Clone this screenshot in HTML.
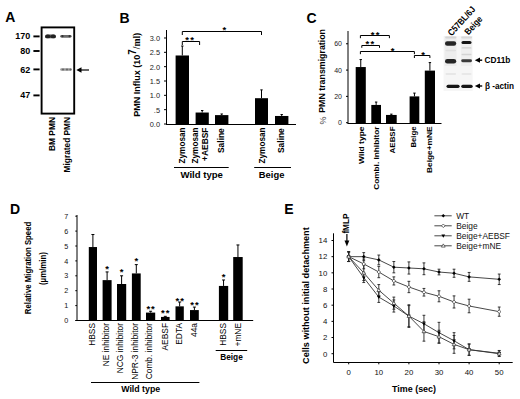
<!DOCTYPE html>
<html><head><meta charset="utf-8"><style>
html,body{margin:0;padding:0;background:#fff;width:520px;height:399px;overflow:hidden}
svg{display:block;font-family:"Liberation Sans",sans-serif}
</style></head><body>
<svg width="520" height="399" viewBox="0 0 520 399">
<rect width="520" height="399" fill="#fff"/>
<text x="5.3" y="22.2" font-size="14" font-weight="bold" text-anchor="start" fill="#000">A</text>
<defs><filter id="bl" x="-20%" y="-50%" width="140%" height="200%"><feGaussianBlur stdDeviation="0.6"/></filter><filter id="bl2" x="-20%" y="-80%" width="140%" height="260%"><feGaussianBlur stdDeviation="0.75"/></filter></defs>
<rect x="45" y="34.5" width="11" height="3.8" rx="1.9" fill="#555" filter="url(#bl)"/>
<ellipse cx="47.8" cy="36.4" rx="2.6" ry="1.9" fill="#222" filter="url(#bl)"/>
<ellipse cx="53.2" cy="36.4" rx="2.6" ry="1.9" fill="#222" filter="url(#bl)"/>
<rect x="60.2" y="34.9" width="11.4" height="2.8" rx="1.4" fill="#6a6a6a" filter="url(#bl)"/>
<circle cx="62.5" cy="36.2" r="1.1" fill="#333" filter="url(#bl)"/>
<circle cx="69.6" cy="36.2" r="1.1" fill="#333" filter="url(#bl)"/>
<rect x="60.2" y="68.2" width="11.6" height="2.6" rx="1.3" fill="#999" filter="url(#bl)"/>
<circle cx="63" cy="69.5" r="1" fill="#666" filter="url(#bl)"/>
<circle cx="67" cy="69.5" r="1" fill="#666" filter="url(#bl)"/>
<circle cx="70.5" cy="69.5" r="1" fill="#666" filter="url(#bl)"/>
<rect x="41.6" y="27.4" width="32.6" height="86.2" fill="none" stroke="#000" stroke-width="1.9"/>
<text x="30.2" y="39.4" font-size="9" font-weight="bold" text-anchor="end" fill="#000">170</text>
<line x1="33.4" y1="36.4" x2="39.6" y2="36.4" stroke="#000" stroke-width="1.9"/>
<text x="30.2" y="54" font-size="9" font-weight="bold" text-anchor="end" fill="#000">80</text>
<line x1="33.4" y1="51" x2="39.6" y2="51" stroke="#000" stroke-width="1.9"/>
<text x="30.2" y="72.5" font-size="9" font-weight="bold" text-anchor="end" fill="#000">62</text>
<line x1="33.4" y1="69.4" x2="39.6" y2="69.4" stroke="#000" stroke-width="1.9"/>
<text x="30.2" y="98.2" font-size="9" font-weight="bold" text-anchor="end" fill="#000">47</text>
<line x1="33.4" y1="95.4" x2="39.6" y2="95.4" stroke="#000" stroke-width="1.9"/>
<line x1="80" y1="70" x2="89" y2="70" stroke="#000" stroke-width="1.2"/>
<path d="M76.3,70 L81.5,67.3 L81.5,72.7 Z" fill="#000"/>
<text transform="translate(55.4,117) rotate(-90)" font-size="8.5" font-weight="bold" text-anchor="end" fill="#000" textLength="34" lengthAdjust="spacingAndGlyphs">BM PMN</text>
<text transform="translate(70.4,117) rotate(-90)" font-size="8.5" font-weight="bold" text-anchor="end" fill="#000" textLength="55.4" lengthAdjust="spacingAndGlyphs">Migrated PMN</text>
<text x="119.4" y="22.6" font-size="14" font-weight="bold" text-anchor="start" fill="#000">B</text>
<line x1="166.5" y1="30" x2="166.5" y2="124.5" stroke="#000" stroke-width="1"/>
<line x1="166" y1="124.5" x2="296" y2="124.5" stroke="#000" stroke-width="1"/>
<line x1="164" y1="37.99" x2="166.5" y2="37.99" stroke="#000" stroke-width="1"/>
<text x="160" y="40.89" font-size="7.4" text-anchor="end" fill="#222">3.0</text>
<line x1="164" y1="52.32" x2="166.5" y2="52.32" stroke="#000" stroke-width="1"/>
<text x="160" y="55.22" font-size="7.4" text-anchor="end" fill="#222">2.5</text>
<line x1="164" y1="66.66" x2="166.5" y2="66.66" stroke="#000" stroke-width="1"/>
<text x="160" y="69.56" font-size="7.4" text-anchor="end" fill="#222">2.0</text>
<line x1="164" y1="81" x2="166.5" y2="81" stroke="#000" stroke-width="1"/>
<text x="160" y="83.9" font-size="7.4" text-anchor="end" fill="#222">1.5</text>
<line x1="164" y1="95.33" x2="166.5" y2="95.33" stroke="#000" stroke-width="1"/>
<text x="160" y="98.23" font-size="7.4" text-anchor="end" fill="#222">1.0</text>
<line x1="164" y1="109.66" x2="166.5" y2="109.66" stroke="#000" stroke-width="1"/>
<text x="160" y="112.56" font-size="7.4" text-anchor="end" fill="#222">.5</text>
<line x1="164" y1="124" x2="166.5" y2="124" stroke="#000" stroke-width="1"/>
<text x="160" y="126.9" font-size="7.4" text-anchor="end" fill="#222">0.0</text>
<rect x="175.6" y="55.48" width="13.4" height="68.52" fill="#000" />
<line x1="182.3" y1="46.02" x2="182.3" y2="55.48" stroke="#000" stroke-width="1"/>
<line x1="181.1" y1="46.02" x2="183.5" y2="46.02" stroke="#000" stroke-width="1"/>
<rect x="195.6" y="112.53" width="13.2" height="11.47" fill="#000" />
<line x1="202.2" y1="110.53" x2="202.2" y2="112.53" stroke="#000" stroke-width="1"/>
<line x1="201" y1="110.53" x2="203.4" y2="110.53" stroke="#000" stroke-width="1"/>
<rect x="215" y="115.11" width="13.4" height="8.89" fill="#000" />
<line x1="221.7" y1="113.97" x2="221.7" y2="115.11" stroke="#000" stroke-width="1"/>
<line x1="220.5" y1="113.97" x2="222.9" y2="113.97" stroke="#000" stroke-width="1"/>
<rect x="255" y="98.2" width="13" height="25.8" fill="#000" />
<line x1="261.5" y1="89.88" x2="261.5" y2="98.2" stroke="#000" stroke-width="1"/>
<line x1="260.3" y1="89.88" x2="262.7" y2="89.88" stroke="#000" stroke-width="1"/>
<rect x="275" y="115.97" width="13.4" height="8.03" fill="#000" />
<line x1="281.7" y1="114.54" x2="281.7" y2="115.97" stroke="#000" stroke-width="1"/>
<line x1="280.5" y1="114.54" x2="282.9" y2="114.54" stroke="#000" stroke-width="1"/>
<path d="M182.3,45 V41.5 H199.6 V45" fill="none" stroke="#000" stroke-width="1"/>
<path d="M182.3,35 V31.5 H261.5 V35" fill="none" stroke="#000" stroke-width="1"/>
<text x="187.1" y="42.57" font-size="9.5" font-weight="bold" text-anchor="middle" fill="#000">*</text>
<text x="192.1" y="42.57" font-size="9.5" font-weight="bold" text-anchor="middle" fill="#000">*</text>
<text x="224.4" y="33.37" font-size="9.5" font-weight="bold" text-anchor="middle" fill="#000">*</text>
<text transform="translate(184.9,127.5) rotate(-90)" font-size="8.2" font-weight="bold" text-anchor="end" fill="#000">Zymosan</text>
<text transform="translate(198.4,127.5) rotate(-90)" font-size="8.2" font-weight="bold" text-anchor="end" fill="#000">Zymosan</text>
<text transform="translate(208.2,127.5) rotate(-90)" font-size="8.2" font-weight="bold" text-anchor="end" fill="#000" textLength="33.5" lengthAdjust="spacingAndGlyphs">+AEBSF</text>
<text transform="translate(223.6,128.2) rotate(-90)" font-size="8.2" font-weight="bold" text-anchor="end" fill="#000" textLength="24.8" lengthAdjust="spacingAndGlyphs">Saline</text>
<text transform="translate(265.3,127.5) rotate(-90)" font-size="8.2" font-weight="bold" text-anchor="end" fill="#000">Zymosan</text>
<text transform="translate(284,128.2) rotate(-90)" font-size="8.2" font-weight="bold" text-anchor="end" fill="#000" textLength="24.8" lengthAdjust="spacingAndGlyphs">Saline</text>
<line x1="174" y1="167.5" x2="228.7" y2="167.5" stroke="#000" stroke-width="1"/>
<line x1="254.2" y1="167.5" x2="291" y2="167.5" stroke="#000" stroke-width="1"/>
<text x="201.7" y="178.3" font-size="9.6" font-weight="bold" text-anchor="middle" fill="#000">Wild type</text>
<text x="271.6" y="178.3" font-size="9.4" font-weight="bold" text-anchor="middle" fill="#000">Beige</text>
<text transform="translate(139.8,116.8) rotate(-90)" font-size="9" font-weight="bold" fill="#000">PMN Influx (10<tspan dy="-4.0" font-size="10">7</tspan><tspan dy="4.0" font-family="Liberation Serif" font-size="9.6">/ml)</tspan></text>
<text x="306.4" y="22.6" font-size="14" font-weight="bold" text-anchor="start" fill="#000">C</text>
<line x1="348" y1="31" x2="348" y2="123.5" stroke="#000" stroke-width="1"/>
<line x1="347.5" y1="123.5" x2="441.5" y2="123.5" stroke="#000" stroke-width="1"/>
<line x1="346" y1="122.7" x2="348" y2="122.7" stroke="#000" stroke-width="1"/>
<text x="342" y="125.2" font-size="7" text-anchor="end" fill="#222">0</text>
<line x1="346" y1="96.39" x2="348" y2="96.39" stroke="#000" stroke-width="1"/>
<text x="342" y="98.89" font-size="7" text-anchor="end" fill="#222">20</text>
<line x1="346" y1="70.08" x2="348" y2="70.08" stroke="#000" stroke-width="1"/>
<text x="342" y="72.58" font-size="7" text-anchor="end" fill="#222">40</text>
<line x1="346" y1="43.77" x2="348" y2="43.77" stroke="#000" stroke-width="1"/>
<text x="342" y="46.27" font-size="7" text-anchor="end" fill="#222">60</text>
<rect x="355.7" y="67.05" width="10.1" height="55.95" fill="#000" />
<line x1="360.75" y1="59.56" x2="360.75" y2="67.05" stroke="#000" stroke-width="1"/>
<line x1="359.55" y1="59.56" x2="361.95" y2="59.56" stroke="#000" stroke-width="1"/>
<rect x="371.3" y="104.94" width="9.7" height="18.06" fill="#000" />
<line x1="376.15" y1="102.05" x2="376.15" y2="104.94" stroke="#000" stroke-width="1"/>
<line x1="374.95" y1="102.05" x2="377.35" y2="102.05" stroke="#000" stroke-width="1"/>
<rect x="386" y="114.94" width="10.7" height="8.06" fill="#000" />
<line x1="391.35" y1="114.15" x2="391.35" y2="114.94" stroke="#000" stroke-width="1"/>
<line x1="390.15" y1="114.15" x2="392.55" y2="114.15" stroke="#000" stroke-width="1"/>
<rect x="409.6" y="96.39" width="9.7" height="26.61" fill="#000" />
<line x1="414.45" y1="93.1" x2="414.45" y2="96.39" stroke="#000" stroke-width="1"/>
<line x1="413.25" y1="93.1" x2="415.65" y2="93.1" stroke="#000" stroke-width="1"/>
<rect x="424.8" y="70.61" width="10.2" height="52.39" fill="#000" />
<line x1="429.9" y1="62.58" x2="429.9" y2="70.61" stroke="#000" stroke-width="1"/>
<line x1="428.7" y1="62.58" x2="431.1" y2="62.58" stroke="#000" stroke-width="1"/>
<path d="M360.4,38.2 V35.5 H389.4 V38.2" fill="none" stroke="#000" stroke-width="1"/>
<path d="M361.8,47.8 V45.5 H379.5 V47.8" fill="none" stroke="#000" stroke-width="1"/>
<path d="M360.4,54.2 V51.5 H414.4 V54.2" fill="none" stroke="#000" stroke-width="1"/>
<path d="M414.4,58 V55.5 H429.9 V58" fill="none" stroke="#000" stroke-width="1"/>
<text x="372.7" y="37.97" font-size="9.5" font-weight="bold" text-anchor="middle" fill="#000">*</text>
<text x="377.7" y="37.97" font-size="9.5" font-weight="bold" text-anchor="middle" fill="#000">*</text>
<text x="367.3" y="46.57" font-size="9.5" font-weight="bold" text-anchor="middle" fill="#000">*</text>
<text x="372.3" y="46.57" font-size="9.5" font-weight="bold" text-anchor="middle" fill="#000">*</text>
<text x="392.7" y="53.57" font-size="9.5" font-weight="bold" text-anchor="middle" fill="#000">*</text>
<text x="423" y="57.57" font-size="9.5" font-weight="bold" text-anchor="middle" fill="#000">*</text>
<text transform="translate(363.5,126.5) rotate(-90)" font-size="7.9" font-weight="bold" text-anchor="end" fill="#000" textLength="37.5" lengthAdjust="spacingAndGlyphs">Wild type</text>
<text transform="translate(379.3,126.5) rotate(-90)" font-size="7.9" font-weight="bold" text-anchor="end" fill="#000" textLength="63.3" lengthAdjust="spacingAndGlyphs">Combi. Inhibitor</text>
<text transform="translate(395,126.5) rotate(-90)" font-size="7.9" font-weight="bold" text-anchor="end" fill="#000" textLength="26.9" lengthAdjust="spacingAndGlyphs">AEBSF</text>
<text transform="translate(416.2,126.5) rotate(-90)" font-size="7.9" font-weight="bold" text-anchor="end" fill="#000" textLength="21" lengthAdjust="spacingAndGlyphs">Beige</text>
<text transform="translate(432.4,126.5) rotate(-90)" font-size="7.9" font-weight="bold" text-anchor="end" fill="#000" textLength="46.4" lengthAdjust="spacingAndGlyphs">Beige+mNE</text>
<text transform="translate(325.8,124.6) rotate(-90)" font-size="9" text-anchor="start" fill="#444">%</text>
<text transform="translate(325.4,112.8) rotate(-90)" font-size="8.8" font-weight="bold" text-anchor="start" fill="#000" textLength="83.8" lengthAdjust="spacingAndGlyphs">PMN transmigration</text>
<g filter="url(#bl)">
<rect x="443.6" y="36" width="29" height="55" fill="#f6f6f6" />
<rect x="444.6" y="36" width="12" height="30" fill="#ededed" />
<rect x="461" y="36" width="11" height="30" fill="#efefef" />
</g>
<rect x="445.2" y="36.6" width="11.2" height="2" rx="1" fill="#d4d4d4" filter="url(#bl2)"/>
<rect x="461.2" y="36.6" width="10.8" height="2" rx="1" fill="#d8d8d8" filter="url(#bl2)"/>
<rect x="445" y="41.3" width="11.2" height="4.4" rx="2.2" fill="#262626" filter="url(#bl2)"/>
<rect x="461.5" y="40.9" width="10" height="3.2" rx="1.6" fill="#141414" filter="url(#bl2)"/>
<rect x="461.5" y="47.2" width="10" height="1.4" rx="0.7" fill="#d0d0d0" filter="url(#bl2)"/>
<rect x="445.5" y="49.8" width="10.5" height="1.4" rx="0.7" fill="#e0e0e0" filter="url(#bl2)"/>
<rect x="461.5" y="53.8" width="10" height="1.4" rx="0.7" fill="#d4d4d4" filter="url(#bl2)"/>
<rect x="445" y="59" width="11.2" height="4.6" rx="2.3" fill="#252525" filter="url(#bl2)"/>
<rect x="461.2" y="59.35" width="10.8" height="2.9" rx="1.45" fill="#3a3a3a" filter="url(#bl2)"/>
<rect x="445.5" y="73.35" width="10.5" height="1.3" rx="0.65" fill="#e2e2e2" filter="url(#bl2)"/>
<rect x="461.5" y="73.35" width="10" height="1.3" rx="0.65" fill="#e4e4e4" filter="url(#bl2)"/>
<rect x="446.5" y="84.7" width="13.1" height="3.2" rx="1.6" fill="#121212" filter="url(#bl2)"/>
<rect x="461.2" y="84.7" width="11.5" height="3.2" rx="1.6" fill="#161616" filter="url(#bl2)"/>
<text transform="translate(451.8,36.6) rotate(-48)" font-size="9.2" font-weight="bold" text-anchor="start" fill="#000" textLength="36" lengthAdjust="spacingAndGlyphs">C57BL/6J</text>
<text transform="translate(468.6,35.4) rotate(-48)" font-size="9.2" font-weight="bold" text-anchor="start" fill="#000" textLength="21.5" lengthAdjust="spacingAndGlyphs">Beige</text>
<path d="M474.8,60.2 L480,57.6 L480,62.800000000000004 Z" fill="#000"/>
<line x1="479" y1="60.2" x2="482.2" y2="60.2" stroke="#000" stroke-width="1.4"/>
<path d="M474.8,86 L480,83.4 L480,88.6 Z" fill="#000"/>
<line x1="479" y1="86" x2="482.2" y2="86" stroke="#000" stroke-width="1.4"/>
<text x="484.5" y="63" font-size="8.3" font-weight="bold" text-anchor="start" fill="#000">CD11b</text>
<text x="484.9" y="88.8" font-size="8.2" font-weight="bold" text-anchor="start" fill="#000">β -actin</text>
<text x="10" y="214" font-size="14" font-weight="bold" text-anchor="start" fill="#000">D</text>
<line x1="77" y1="215" x2="77" y2="320.5" stroke="#000" stroke-width="1"/>
<line x1="75.5" y1="320.5" x2="253.2" y2="320.5" stroke="#000" stroke-width="1"/>
<line x1="75.3" y1="320.5" x2="77" y2="320.5" stroke="#000" stroke-width="1"/>
<text x="68.2" y="323.1" font-size="7.2" text-anchor="end" fill="#111">0</text>
<line x1="75.3" y1="305.6" x2="77" y2="305.6" stroke="#000" stroke-width="1"/>
<text x="68.2" y="308.2" font-size="7.2" text-anchor="end" fill="#111">1</text>
<line x1="75.3" y1="290.7" x2="77" y2="290.7" stroke="#000" stroke-width="1"/>
<text x="68.2" y="293.3" font-size="7.2" text-anchor="end" fill="#111">2</text>
<line x1="75.3" y1="275.8" x2="77" y2="275.8" stroke="#000" stroke-width="1"/>
<text x="68.2" y="278.4" font-size="7.2" text-anchor="end" fill="#111">3</text>
<line x1="75.3" y1="260.9" x2="77" y2="260.9" stroke="#000" stroke-width="1"/>
<text x="68.2" y="263.5" font-size="7.2" text-anchor="end" fill="#111">4</text>
<line x1="75.3" y1="246" x2="77" y2="246" stroke="#000" stroke-width="1"/>
<text x="68.2" y="248.6" font-size="7.2" text-anchor="end" fill="#111">5</text>
<line x1="75.3" y1="231.1" x2="77" y2="231.1" stroke="#000" stroke-width="1"/>
<text x="68.2" y="233.7" font-size="7.2" text-anchor="end" fill="#111">6</text>
<line x1="75.3" y1="216.2" x2="77" y2="216.2" stroke="#000" stroke-width="1"/>
<text x="68.2" y="218.8" font-size="7.2" text-anchor="end" fill="#111">7</text>
<rect x="88.8" y="247.04" width="8.2" height="72.96" fill="#000" />
<line x1="92.9" y1="234.53" x2="92.9" y2="247.04" stroke="#000" stroke-width="1"/>
<line x1="91.4" y1="234.53" x2="94.4" y2="234.53" stroke="#000" stroke-width="1"/>
<rect x="102.6" y="280.12" width="9" height="39.88" fill="#000" />
<line x1="107.1" y1="271.93" x2="107.1" y2="280.12" stroke="#000" stroke-width="1"/>
<line x1="105.6" y1="271.93" x2="108.6" y2="271.93" stroke="#000" stroke-width="1"/>
<text x="107.1" y="271.77" font-size="9.5" font-weight="bold" text-anchor="middle" fill="#000">*</text>
<rect x="117" y="284" width="9.2" height="36" fill="#000" />
<line x1="121.6" y1="275.8" x2="121.6" y2="284" stroke="#000" stroke-width="1"/>
<line x1="120.1" y1="275.8" x2="123.1" y2="275.8" stroke="#000" stroke-width="1"/>
<text x="121.6" y="274.77" font-size="9.5" font-weight="bold" text-anchor="middle" fill="#000">*</text>
<rect x="131.9" y="273.42" width="8.8" height="46.58" fill="#000" />
<line x1="136.3" y1="264.62" x2="136.3" y2="273.42" stroke="#000" stroke-width="1"/>
<line x1="134.8" y1="264.62" x2="137.8" y2="264.62" stroke="#000" stroke-width="1"/>
<text x="136.3" y="264.37" font-size="9.5" font-weight="bold" text-anchor="middle" fill="#000">*</text>
<rect x="146" y="312.6" width="9.2" height="7.4" fill="#000" />
<line x1="150.6" y1="311.26" x2="150.6" y2="312.6" stroke="#000" stroke-width="1"/>
<line x1="149.1" y1="311.26" x2="152.1" y2="311.26" stroke="#000" stroke-width="1"/>
<text x="148.25" y="311.87" font-size="9.5" font-weight="bold" text-anchor="middle" fill="#000">*</text>
<text x="152.95" y="311.87" font-size="9.5" font-weight="bold" text-anchor="middle" fill="#000">*</text>
<rect x="161" y="316.92" width="8.6" height="3.08" fill="#000" />
<line x1="165.3" y1="316.33" x2="165.3" y2="316.92" stroke="#000" stroke-width="1"/>
<line x1="163.8" y1="316.33" x2="166.8" y2="316.33" stroke="#000" stroke-width="1"/>
<text x="162.95" y="316.07" font-size="9.5" font-weight="bold" text-anchor="middle" fill="#000">*</text>
<text x="167.65" y="316.07" font-size="9.5" font-weight="bold" text-anchor="middle" fill="#000">*</text>
<rect x="175.5" y="306.35" width="8.3" height="13.65" fill="#000" />
<line x1="179.65" y1="302.02" x2="179.65" y2="306.35" stroke="#000" stroke-width="1"/>
<line x1="178.15" y1="302.02" x2="181.15" y2="302.02" stroke="#000" stroke-width="1"/>
<text x="177.3" y="303.77" font-size="9.5" font-weight="bold" text-anchor="middle" fill="#000">*</text>
<text x="182" y="303.77" font-size="9.5" font-weight="bold" text-anchor="middle" fill="#000">*</text>
<rect x="190" y="310.07" width="8.8" height="9.93" fill="#000" />
<line x1="194.4" y1="307.09" x2="194.4" y2="310.07" stroke="#000" stroke-width="1"/>
<line x1="192.9" y1="307.09" x2="195.9" y2="307.09" stroke="#000" stroke-width="1"/>
<text x="192.05" y="308.47" font-size="9.5" font-weight="bold" text-anchor="middle" fill="#000">*</text>
<text x="196.75" y="308.47" font-size="9.5" font-weight="bold" text-anchor="middle" fill="#000">*</text>
<rect x="218.9" y="285.93" width="9.3" height="34.07" fill="#000" />
<line x1="223.55" y1="279.97" x2="223.55" y2="285.93" stroke="#000" stroke-width="1"/>
<line x1="222.05" y1="279.97" x2="225.05" y2="279.97" stroke="#000" stroke-width="1"/>
<text x="223.55" y="280.37" font-size="9.5" font-weight="bold" text-anchor="middle" fill="#000">*</text>
<rect x="233.2" y="257.03" width="9.5" height="62.97" fill="#000" />
<line x1="237.95" y1="244.96" x2="237.95" y2="257.03" stroke="#000" stroke-width="1"/>
<line x1="236.45" y1="244.96" x2="239.45" y2="244.96" stroke="#000" stroke-width="1"/>
<text transform="translate(95,323) rotate(-90)" font-size="8.4" text-anchor="end" fill="#000">HBSS</text>
<text transform="translate(109.2,323) rotate(-90)" font-size="8.4" text-anchor="end" fill="#000">NE inhibitor</text>
<text transform="translate(123.4,323) rotate(-90)" font-size="8.4" text-anchor="end" fill="#000">NCG inhibitor</text>
<text transform="translate(138,323) rotate(-90)" font-size="8.4" text-anchor="end" fill="#000">NPR-3 inhibitor</text>
<text transform="translate(152.4,323) rotate(-90)" font-size="8.4" text-anchor="end" fill="#000">Comb. inhibitor</text>
<text transform="translate(167.6,323) rotate(-90)" font-size="8.4" text-anchor="end" fill="#000">AEBSF</text>
<text transform="translate(182,323) rotate(-90)" font-size="8.4" text-anchor="end" fill="#000">EDTA</text>
<text transform="translate(197,323) rotate(-90)" font-size="8.4" text-anchor="end" fill="#000">44a</text>
<text transform="translate(226.4,323) rotate(-90)" font-size="8.4" text-anchor="end" fill="#000">HBSS</text>
<text transform="translate(240.6,323) rotate(-90)" font-size="8.4" text-anchor="end" fill="#000">+mNE</text>
<line x1="91" y1="382.5" x2="199.4" y2="382.5" stroke="#000" stroke-width="1"/>
<line x1="215.7" y1="350.5" x2="247.2" y2="350.5" stroke="#000" stroke-width="1"/>
<text x="140.7" y="391.6" font-size="8.8" font-weight="bold" text-anchor="middle" fill="#000">Wild type</text>
<text x="231.5" y="360" font-size="8.3" font-weight="bold" text-anchor="middle" fill="#000">Beige</text>
<text transform="translate(31.3,268) rotate(-90)" font-size="8.3" font-weight="bold" text-anchor="middle" fill="#000" textLength="92.4" lengthAdjust="spacingAndGlyphs">Relative Migration Speed</text>
<text transform="translate(45.9,268.5) rotate(-90)" font-size="8.3" font-weight="bold" text-anchor="middle" fill="#000" textLength="33" lengthAdjust="spacingAndGlyphs">(µm/min)</text>
<text x="284.2" y="214" font-size="14" font-weight="bold" text-anchor="start" fill="#000">E</text>
<line x1="333.5" y1="233.3" x2="333.5" y2="362.5" stroke="#000" stroke-width="1"/>
<line x1="333.5" y1="362.5" x2="512.7" y2="362.5" stroke="#000" stroke-width="1"/>
<line x1="331.5" y1="353.7" x2="333.5" y2="353.7" stroke="#000" stroke-width="1"/>
<text x="327.3" y="356.5" font-size="7.8" text-anchor="end" fill="#111">0</text>
<line x1="331.5" y1="337.53" x2="333.5" y2="337.53" stroke="#000" stroke-width="1"/>
<text x="327.3" y="340.33" font-size="7.8" text-anchor="end" fill="#111">2</text>
<line x1="331.5" y1="321.36" x2="333.5" y2="321.36" stroke="#000" stroke-width="1"/>
<text x="327.3" y="324.16" font-size="7.8" text-anchor="end" fill="#111">4</text>
<line x1="331.5" y1="305.18" x2="333.5" y2="305.18" stroke="#000" stroke-width="1"/>
<text x="327.3" y="307.98" font-size="7.8" text-anchor="end" fill="#111">6</text>
<line x1="331.5" y1="289.01" x2="333.5" y2="289.01" stroke="#000" stroke-width="1"/>
<text x="327.3" y="291.81" font-size="7.8" text-anchor="end" fill="#111">8</text>
<line x1="331.5" y1="272.84" x2="333.5" y2="272.84" stroke="#000" stroke-width="1"/>
<text x="327.3" y="275.64" font-size="7.8" text-anchor="end" fill="#111">10</text>
<line x1="331.5" y1="256.67" x2="333.5" y2="256.67" stroke="#000" stroke-width="1"/>
<text x="327.3" y="259.47" font-size="7.8" text-anchor="end" fill="#111">12</text>
<line x1="331.5" y1="240.5" x2="333.5" y2="240.5" stroke="#000" stroke-width="1"/>
<text x="327.3" y="243.3" font-size="7.8" text-anchor="end" fill="#111">14</text>
<line x1="348.7" y1="362.3" x2="348.7" y2="364.3" stroke="#000" stroke-width="1"/>
<text x="348.7" y="375.2" font-size="7.8" text-anchor="middle" fill="#111">0</text>
<line x1="378.8" y1="362.3" x2="378.8" y2="364.3" stroke="#000" stroke-width="1"/>
<text x="378.8" y="375.2" font-size="7.8" text-anchor="middle" fill="#111">10</text>
<line x1="408.9" y1="362.3" x2="408.9" y2="364.3" stroke="#000" stroke-width="1"/>
<text x="408.9" y="375.2" font-size="7.8" text-anchor="middle" fill="#111">20</text>
<line x1="439" y1="362.3" x2="439" y2="364.3" stroke="#000" stroke-width="1"/>
<text x="439" y="375.2" font-size="7.8" text-anchor="middle" fill="#111">30</text>
<line x1="469.1" y1="362.3" x2="469.1" y2="364.3" stroke="#000" stroke-width="1"/>
<text x="469.1" y="375.2" font-size="7.8" text-anchor="middle" fill="#111">40</text>
<line x1="499.2" y1="362.3" x2="499.2" y2="364.3" stroke="#000" stroke-width="1"/>
<text x="499.2" y="375.2" font-size="7.8" text-anchor="middle" fill="#111">50</text>
<text x="414" y="392" font-size="9" font-weight="bold" text-anchor="middle" fill="#000" textLength="44" lengthAdjust="spacingAndGlyphs">Time (sec)</text>
<text transform="translate(309.4,295.6) rotate(-90)" font-size="9.3" font-weight="bold" text-anchor="middle" fill="#000" textLength="136.6" lengthAdjust="spacingAndGlyphs">Cells without initial detachment</text>
<text transform="translate(349.2,233.6) rotate(-90)" font-size="8.6" font-weight="bold" text-anchor="start" fill="#000" textLength="20" lengthAdjust="spacingAndGlyphs">fMLP</text>
<line x1="346.9" y1="234" x2="346.9" y2="242" stroke="#000" stroke-width="1.2"/>
<path d="M344.5,240.6 L349.3,240.6 L346.9,246.4 Z" fill="#000"/>
<polyline points="348.7,256.67 363.75,256.67 378.8,259.9 393.85,267.18 408.9,267.99 423.95,268.8 439,272.03 454.05,273.24 469.1,276.88 499.2,279.31" fill="none" stroke="#333" stroke-width="0.9"/>
<line x1="348.7" y1="251.82" x2="348.7" y2="261.52" stroke="#222" stroke-width="0.9"/>
<line x1="347.3" y1="251.82" x2="350.1" y2="251.82" stroke="#222" stroke-width="0.9"/>
<line x1="347.3" y1="261.52" x2="350.1" y2="261.52" stroke="#222" stroke-width="0.9"/>
<line x1="363.75" y1="252.62" x2="363.75" y2="260.71" stroke="#222" stroke-width="0.9"/>
<line x1="362.35" y1="252.62" x2="365.15" y2="252.62" stroke="#222" stroke-width="0.9"/>
<line x1="362.35" y1="260.71" x2="365.15" y2="260.71" stroke="#222" stroke-width="0.9"/>
<line x1="378.8" y1="255.05" x2="378.8" y2="264.75" stroke="#222" stroke-width="0.9"/>
<line x1="377.4" y1="255.05" x2="380.2" y2="255.05" stroke="#222" stroke-width="0.9"/>
<line x1="377.4" y1="264.75" x2="380.2" y2="264.75" stroke="#222" stroke-width="0.9"/>
<line x1="393.85" y1="261.52" x2="393.85" y2="272.84" stroke="#222" stroke-width="0.9"/>
<line x1="392.45" y1="261.52" x2="395.25" y2="261.52" stroke="#222" stroke-width="0.9"/>
<line x1="392.45" y1="272.84" x2="395.25" y2="272.84" stroke="#222" stroke-width="0.9"/>
<line x1="408.9" y1="261.92" x2="408.9" y2="274.05" stroke="#222" stroke-width="0.9"/>
<line x1="407.5" y1="261.92" x2="410.3" y2="261.92" stroke="#222" stroke-width="0.9"/>
<line x1="407.5" y1="274.05" x2="410.3" y2="274.05" stroke="#222" stroke-width="0.9"/>
<line x1="423.95" y1="262.89" x2="423.95" y2="274.7" stroke="#222" stroke-width="0.9"/>
<line x1="422.55" y1="262.89" x2="425.35" y2="262.89" stroke="#222" stroke-width="0.9"/>
<line x1="422.55" y1="274.7" x2="425.35" y2="274.7" stroke="#222" stroke-width="0.9"/>
<line x1="439" y1="269.2" x2="439" y2="274.86" stroke="#222" stroke-width="0.9"/>
<line x1="437.6" y1="269.2" x2="440.4" y2="269.2" stroke="#222" stroke-width="0.9"/>
<line x1="437.6" y1="274.86" x2="440.4" y2="274.86" stroke="#222" stroke-width="0.9"/>
<line x1="454.05" y1="269.2" x2="454.05" y2="277.29" stroke="#222" stroke-width="0.9"/>
<line x1="452.65" y1="269.2" x2="455.45" y2="269.2" stroke="#222" stroke-width="0.9"/>
<line x1="452.65" y1="277.29" x2="455.45" y2="277.29" stroke="#222" stroke-width="0.9"/>
<line x1="469.1" y1="272.44" x2="469.1" y2="281.33" stroke="#222" stroke-width="0.9"/>
<line x1="467.7" y1="272.44" x2="470.5" y2="272.44" stroke="#222" stroke-width="0.9"/>
<line x1="467.7" y1="281.33" x2="470.5" y2="281.33" stroke="#222" stroke-width="0.9"/>
<line x1="499.2" y1="274.05" x2="499.2" y2="284.56" stroke="#222" stroke-width="0.9"/>
<line x1="497.8" y1="274.05" x2="500.6" y2="274.05" stroke="#222" stroke-width="0.9"/>
<line x1="497.8" y1="284.56" x2="500.6" y2="284.56" stroke="#222" stroke-width="0.9"/>
<polyline points="348.7,256.67 363.75,263.95 378.8,272.03 393.85,280.93 408.9,286.99 423.95,292.25 439,296.29 454.05,301.95 469.1,305.99 499.2,311.65" fill="none" stroke="#333" stroke-width="0.9"/>
<line x1="348.7" y1="251.82" x2="348.7" y2="261.52" stroke="#222" stroke-width="0.9"/>
<line x1="347.3" y1="251.82" x2="350.1" y2="251.82" stroke="#222" stroke-width="0.9"/>
<line x1="347.3" y1="261.52" x2="350.1" y2="261.52" stroke="#222" stroke-width="0.9"/>
<line x1="363.75" y1="259.09" x2="363.75" y2="268.8" stroke="#222" stroke-width="0.9"/>
<line x1="362.35" y1="259.09" x2="365.15" y2="259.09" stroke="#222" stroke-width="0.9"/>
<line x1="362.35" y1="268.8" x2="365.15" y2="268.8" stroke="#222" stroke-width="0.9"/>
<line x1="378.8" y1="266.37" x2="378.8" y2="277.69" stroke="#222" stroke-width="0.9"/>
<line x1="377.4" y1="266.37" x2="380.2" y2="266.37" stroke="#222" stroke-width="0.9"/>
<line x1="377.4" y1="277.69" x2="380.2" y2="277.69" stroke="#222" stroke-width="0.9"/>
<line x1="393.85" y1="276.88" x2="393.85" y2="284.97" stroke="#222" stroke-width="0.9"/>
<line x1="392.45" y1="276.88" x2="395.25" y2="276.88" stroke="#222" stroke-width="0.9"/>
<line x1="392.45" y1="284.97" x2="395.25" y2="284.97" stroke="#222" stroke-width="0.9"/>
<line x1="408.9" y1="281.33" x2="408.9" y2="292.65" stroke="#222" stroke-width="0.9"/>
<line x1="407.5" y1="281.33" x2="410.3" y2="281.33" stroke="#222" stroke-width="0.9"/>
<line x1="407.5" y1="292.65" x2="410.3" y2="292.65" stroke="#222" stroke-width="0.9"/>
<line x1="423.95" y1="288.45" x2="423.95" y2="296.05" stroke="#222" stroke-width="0.9"/>
<line x1="422.55" y1="288.45" x2="425.35" y2="288.45" stroke="#222" stroke-width="0.9"/>
<line x1="422.55" y1="296.05" x2="425.35" y2="296.05" stroke="#222" stroke-width="0.9"/>
<line x1="439" y1="290.79" x2="439" y2="301.79" stroke="#222" stroke-width="0.9"/>
<line x1="437.6" y1="290.79" x2="440.4" y2="290.79" stroke="#222" stroke-width="0.9"/>
<line x1="437.6" y1="301.79" x2="440.4" y2="301.79" stroke="#222" stroke-width="0.9"/>
<line x1="454.05" y1="295.89" x2="454.05" y2="308.01" stroke="#222" stroke-width="0.9"/>
<line x1="452.65" y1="295.89" x2="455.45" y2="295.89" stroke="#222" stroke-width="0.9"/>
<line x1="452.65" y1="308.01" x2="455.45" y2="308.01" stroke="#222" stroke-width="0.9"/>
<line x1="469.1" y1="299.2" x2="469.1" y2="312.78" stroke="#222" stroke-width="0.9"/>
<line x1="467.7" y1="299.2" x2="470.5" y2="299.2" stroke="#222" stroke-width="0.9"/>
<line x1="467.7" y1="312.78" x2="470.5" y2="312.78" stroke="#222" stroke-width="0.9"/>
<line x1="499.2" y1="307.04" x2="499.2" y2="316.26" stroke="#222" stroke-width="0.9"/>
<line x1="497.8" y1="307.04" x2="500.6" y2="307.04" stroke="#222" stroke-width="0.9"/>
<line x1="497.8" y1="316.26" x2="500.6" y2="316.26" stroke="#222" stroke-width="0.9"/>
<polyline points="348.7,256.67 363.75,277.69 378.8,297.1 393.85,305.99 408.9,316.1 423.95,323.78 439,332.68 454.05,340.76 469.1,349.66 499.2,353.3" fill="none" stroke="#333" stroke-width="0.9"/>
<line x1="348.7" y1="251.82" x2="348.7" y2="261.52" stroke="#222" stroke-width="0.9"/>
<line x1="347.3" y1="251.82" x2="350.1" y2="251.82" stroke="#222" stroke-width="0.9"/>
<line x1="347.3" y1="261.52" x2="350.1" y2="261.52" stroke="#222" stroke-width="0.9"/>
<line x1="363.75" y1="272.84" x2="363.75" y2="282.54" stroke="#222" stroke-width="0.9"/>
<line x1="362.35" y1="272.84" x2="365.15" y2="272.84" stroke="#222" stroke-width="0.9"/>
<line x1="362.35" y1="282.54" x2="365.15" y2="282.54" stroke="#222" stroke-width="0.9"/>
<line x1="378.8" y1="291.76" x2="378.8" y2="302.43" stroke="#222" stroke-width="0.9"/>
<line x1="377.4" y1="291.76" x2="380.2" y2="291.76" stroke="#222" stroke-width="0.9"/>
<line x1="377.4" y1="302.43" x2="380.2" y2="302.43" stroke="#222" stroke-width="0.9"/>
<line x1="393.85" y1="299.93" x2="393.85" y2="312.06" stroke="#222" stroke-width="0.9"/>
<line x1="392.45" y1="299.93" x2="395.25" y2="299.93" stroke="#222" stroke-width="0.9"/>
<line x1="392.45" y1="312.06" x2="395.25" y2="312.06" stroke="#222" stroke-width="0.9"/>
<line x1="408.9" y1="305.59" x2="408.9" y2="326.61" stroke="#222" stroke-width="0.9"/>
<line x1="407.5" y1="305.59" x2="410.3" y2="305.59" stroke="#222" stroke-width="0.9"/>
<line x1="407.5" y1="326.61" x2="410.3" y2="326.61" stroke="#222" stroke-width="0.9"/>
<line x1="423.95" y1="315.29" x2="423.95" y2="332.27" stroke="#222" stroke-width="0.9"/>
<line x1="422.55" y1="315.29" x2="425.35" y2="315.29" stroke="#222" stroke-width="0.9"/>
<line x1="422.55" y1="332.27" x2="425.35" y2="332.27" stroke="#222" stroke-width="0.9"/>
<line x1="439" y1="322.33" x2="439" y2="343.03" stroke="#222" stroke-width="0.9"/>
<line x1="437.6" y1="322.33" x2="440.4" y2="322.33" stroke="#222" stroke-width="0.9"/>
<line x1="437.6" y1="343.03" x2="440.4" y2="343.03" stroke="#222" stroke-width="0.9"/>
<line x1="454.05" y1="332.68" x2="454.05" y2="348.85" stroke="#222" stroke-width="0.9"/>
<line x1="452.65" y1="332.68" x2="455.45" y2="332.68" stroke="#222" stroke-width="0.9"/>
<line x1="452.65" y1="348.85" x2="455.45" y2="348.85" stroke="#222" stroke-width="0.9"/>
<line x1="469.1" y1="344" x2="469.1" y2="355.32" stroke="#222" stroke-width="0.9"/>
<line x1="467.7" y1="344" x2="470.5" y2="344" stroke="#222" stroke-width="0.9"/>
<line x1="467.7" y1="355.32" x2="470.5" y2="355.32" stroke="#222" stroke-width="0.9"/>
<line x1="499.2" y1="350.47" x2="499.2" y2="356.13" stroke="#222" stroke-width="0.9"/>
<line x1="497.8" y1="350.47" x2="500.6" y2="350.47" stroke="#222" stroke-width="0.9"/>
<line x1="497.8" y1="356.13" x2="500.6" y2="356.13" stroke="#222" stroke-width="0.9"/>
<polyline points="348.7,256.67 363.75,272.84 378.8,290.22 393.85,303.16 408.9,316.1 423.95,331.46 439,336.72 454.05,344.4 469.1,349.66 499.2,353.7" fill="none" stroke="#333" stroke-width="0.9"/>
<line x1="348.7" y1="251.82" x2="348.7" y2="261.52" stroke="#222" stroke-width="0.9"/>
<line x1="347.3" y1="251.82" x2="350.1" y2="251.82" stroke="#222" stroke-width="0.9"/>
<line x1="347.3" y1="261.52" x2="350.1" y2="261.52" stroke="#222" stroke-width="0.9"/>
<line x1="363.75" y1="265.16" x2="363.75" y2="280.52" stroke="#222" stroke-width="0.9"/>
<line x1="362.35" y1="265.16" x2="365.15" y2="265.16" stroke="#222" stroke-width="0.9"/>
<line x1="362.35" y1="280.52" x2="365.15" y2="280.52" stroke="#222" stroke-width="0.9"/>
<line x1="378.8" y1="284.56" x2="378.8" y2="295.89" stroke="#222" stroke-width="0.9"/>
<line x1="377.4" y1="284.56" x2="380.2" y2="284.56" stroke="#222" stroke-width="0.9"/>
<line x1="377.4" y1="295.89" x2="380.2" y2="295.89" stroke="#222" stroke-width="0.9"/>
<line x1="393.85" y1="297.1" x2="393.85" y2="309.23" stroke="#222" stroke-width="0.9"/>
<line x1="392.45" y1="297.1" x2="395.25" y2="297.1" stroke="#222" stroke-width="0.9"/>
<line x1="392.45" y1="309.23" x2="395.25" y2="309.23" stroke="#222" stroke-width="0.9"/>
<line x1="408.9" y1="304.78" x2="408.9" y2="327.42" stroke="#222" stroke-width="0.9"/>
<line x1="407.5" y1="304.78" x2="410.3" y2="304.78" stroke="#222" stroke-width="0.9"/>
<line x1="407.5" y1="327.42" x2="410.3" y2="327.42" stroke="#222" stroke-width="0.9"/>
<line x1="423.95" y1="321.76" x2="423.95" y2="341.17" stroke="#222" stroke-width="0.9"/>
<line x1="422.55" y1="321.76" x2="425.35" y2="321.76" stroke="#222" stroke-width="0.9"/>
<line x1="422.55" y1="341.17" x2="425.35" y2="341.17" stroke="#222" stroke-width="0.9"/>
<line x1="439" y1="330.25" x2="439" y2="343.19" stroke="#222" stroke-width="0.9"/>
<line x1="437.6" y1="330.25" x2="440.4" y2="330.25" stroke="#222" stroke-width="0.9"/>
<line x1="437.6" y1="343.19" x2="440.4" y2="343.19" stroke="#222" stroke-width="0.9"/>
<line x1="454.05" y1="335.51" x2="454.05" y2="353.3" stroke="#222" stroke-width="0.9"/>
<line x1="452.65" y1="335.51" x2="455.45" y2="335.51" stroke="#222" stroke-width="0.9"/>
<line x1="452.65" y1="353.3" x2="455.45" y2="353.3" stroke="#222" stroke-width="0.9"/>
<line x1="469.1" y1="344" x2="469.1" y2="355.32" stroke="#222" stroke-width="0.9"/>
<line x1="467.7" y1="344" x2="470.5" y2="344" stroke="#222" stroke-width="0.9"/>
<line x1="467.7" y1="355.32" x2="470.5" y2="355.32" stroke="#222" stroke-width="0.9"/>
<line x1="499.2" y1="350.87" x2="499.2" y2="356.53" stroke="#222" stroke-width="0.9"/>
<line x1="497.8" y1="350.87" x2="500.6" y2="350.87" stroke="#222" stroke-width="0.9"/>
<line x1="497.8" y1="356.53" x2="500.6" y2="356.53" stroke="#222" stroke-width="0.9"/>
<path d="M348.7,254.87 L350.5,256.67 L348.7,258.47 L346.9,256.67 Z" fill="#000"/>
<path d="M363.75,254.87 L365.55,256.67 L363.75,258.47 L361.95,256.67 Z" fill="#000"/>
<path d="M378.8,258.1 L380.6,259.9 L378.8,261.7 L377,259.9 Z" fill="#000"/>
<path d="M393.85,265.38 L395.65,267.18 L393.85,268.98 L392.05,267.18 Z" fill="#000"/>
<path d="M408.9,266.19 L410.7,267.99 L408.9,269.79 L407.1,267.99 Z" fill="#000"/>
<path d="M423.95,267 L425.75,268.8 L423.95,270.6 L422.15,268.8 Z" fill="#000"/>
<path d="M439,270.23 L440.8,272.03 L439,273.83 L437.2,272.03 Z" fill="#000"/>
<path d="M454.05,271.44 L455.85,273.24 L454.05,275.04 L452.25,273.24 Z" fill="#000"/>
<path d="M469.1,275.08 L470.9,276.88 L469.1,278.68 L467.3,276.88 Z" fill="#000"/>
<path d="M499.2,277.51 L501,279.31 L499.2,281.11 L497.4,279.31 Z" fill="#000"/>
<path d="M348.7,254.87 L350.5,256.67 L348.7,258.47 L346.9,256.67 Z" fill="#fff" stroke="#333" stroke-width="0.7"/>
<path d="M363.75,262.15 L365.55,263.95 L363.75,265.75 L361.95,263.95 Z" fill="#fff" stroke="#333" stroke-width="0.7"/>
<path d="M378.8,270.23 L380.6,272.03 L378.8,273.83 L377,272.03 Z" fill="#fff" stroke="#333" stroke-width="0.7"/>
<path d="M393.85,279.13 L395.65,280.93 L393.85,282.73 L392.05,280.93 Z" fill="#fff" stroke="#333" stroke-width="0.7"/>
<path d="M408.9,285.19 L410.7,286.99 L408.9,288.79 L407.1,286.99 Z" fill="#fff" stroke="#333" stroke-width="0.7"/>
<path d="M423.95,290.45 L425.75,292.25 L423.95,294.05 L422.15,292.25 Z" fill="#fff" stroke="#333" stroke-width="0.7"/>
<path d="M439,294.49 L440.8,296.29 L439,298.09 L437.2,296.29 Z" fill="#fff" stroke="#333" stroke-width="0.7"/>
<path d="M454.05,300.15 L455.85,301.95 L454.05,303.75 L452.25,301.95 Z" fill="#fff" stroke="#333" stroke-width="0.7"/>
<path d="M469.1,304.19 L470.9,305.99 L469.1,307.79 L467.3,305.99 Z" fill="#fff" stroke="#333" stroke-width="0.7"/>
<path d="M499.2,309.85 L501,311.65 L499.2,313.45 L497.4,311.65 Z" fill="#fff" stroke="#333" stroke-width="0.7"/>
<path d="M346.8,255.37 L350.6,255.37 L348.7,258.57 Z" fill="#000"/>
<path d="M361.85,276.39 L365.65,276.39 L363.75,279.59 Z" fill="#000"/>
<path d="M376.9,295.8 L380.7,295.8 L378.8,299 Z" fill="#000"/>
<path d="M391.95,304.69 L395.75,304.69 L393.85,307.89 Z" fill="#000"/>
<path d="M407,314.8 L410.8,314.8 L408.9,318 Z" fill="#000"/>
<path d="M422.05,322.48 L425.85,322.48 L423.95,325.68 Z" fill="#000"/>
<path d="M437.1,331.38 L440.9,331.38 L439,334.58 Z" fill="#000"/>
<path d="M452.15,339.46 L455.95,339.46 L454.05,342.66 Z" fill="#000"/>
<path d="M467.2,348.36 L471,348.36 L469.1,351.56 Z" fill="#000"/>
<path d="M497.3,352 L501.1,352 L499.2,355.2 Z" fill="#000"/>
<path d="M346.8,257.97 L350.6,257.97 L348.7,254.77 Z" fill="#fff" stroke="#333" stroke-width="0.7"/>
<path d="M361.85,274.14 L365.65,274.14 L363.75,270.94 Z" fill="#fff" stroke="#333" stroke-width="0.7"/>
<path d="M376.9,291.52 L380.7,291.52 L378.8,288.32 Z" fill="#fff" stroke="#333" stroke-width="0.7"/>
<path d="M391.95,304.46 L395.75,304.46 L393.85,301.26 Z" fill="#fff" stroke="#333" stroke-width="0.7"/>
<path d="M407,317.4 L410.8,317.4 L408.9,314.2 Z" fill="#fff" stroke="#333" stroke-width="0.7"/>
<path d="M422.05,332.76 L425.85,332.76 L423.95,329.56 Z" fill="#fff" stroke="#333" stroke-width="0.7"/>
<path d="M437.1,338.02 L440.9,338.02 L439,334.82 Z" fill="#fff" stroke="#333" stroke-width="0.7"/>
<path d="M452.15,345.7 L455.95,345.7 L454.05,342.5 Z" fill="#fff" stroke="#333" stroke-width="0.7"/>
<path d="M467.2,350.96 L471,350.96 L469.1,347.76 Z" fill="#fff" stroke="#333" stroke-width="0.7"/>
<path d="M497.3,355 L501.1,355 L499.2,351.8 Z" fill="#fff" stroke="#333" stroke-width="0.7"/>
<line x1="434.4" y1="215.8" x2="451.7" y2="215.8" stroke="#333" stroke-width="0.9"/>
<path d="M443.3,214 L445.1,215.8 L443.3,217.6 L441.5,215.8 Z" fill="#000"/>
<text x="456.2" y="218.7" font-size="8.4" text-anchor="start" fill="#111">WT</text>
<line x1="434.4" y1="225.8" x2="451.7" y2="225.8" stroke="#333" stroke-width="0.9"/>
<path d="M443.3,224 L445.1,225.8 L443.3,227.6 L441.5,225.8 Z" fill="#fff" stroke="#333" stroke-width="0.7"/>
<text x="456.2" y="228.7" font-size="8.4" text-anchor="start" fill="#111">Beige</text>
<line x1="434.4" y1="235.8" x2="451.7" y2="235.8" stroke="#333" stroke-width="0.9"/>
<path d="M441.4,234.5 L445.2,234.5 L443.3,237.7 Z" fill="#000"/>
<text x="456.2" y="238.7" font-size="8.4" text-anchor="start" fill="#111">Beige+AEBSF</text>
<line x1="434.4" y1="245.8" x2="451.7" y2="245.8" stroke="#333" stroke-width="0.9"/>
<path d="M441.4,247.1 L445.2,247.1 L443.3,243.9 Z" fill="#fff" stroke="#333" stroke-width="0.7"/>
<text x="456.2" y="248.7" font-size="8.4" text-anchor="start" fill="#111">Beige+mNE</text>
</svg></body></html>
